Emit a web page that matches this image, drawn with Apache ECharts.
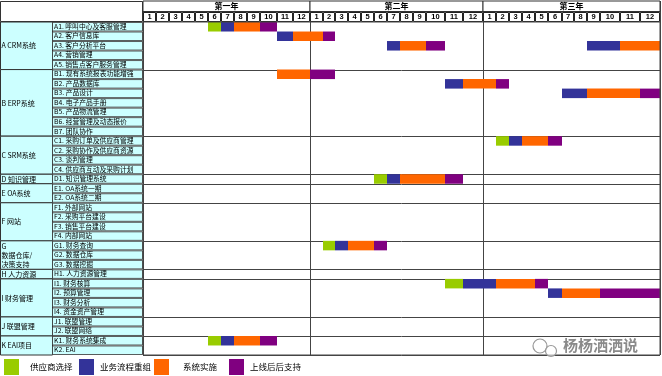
<!DOCTYPE html>
<html lang="zh-hans">
<head>
<meta charset="UTF-8">
<title>项目实施计划</title>
<script src="https://cdn.jsdelivr.net/npm/echarts@6/dist/echarts.min.js"></script>
<style>
  html, body { margin: 0; padding: 0; background: #fff; }
  #main { width: 662px; height: 376px; }
</style>
</head>
<body>
<div id="main"></div>
<script>
var yearLabels = ['第一年', '第二年', '第三年'];
var monthLabels = ['1', '2', '3', '4', '5', '6', '7', '8', '9', '10', '11', '12'];

var groupNames = ['A CRM系统', 'B ERP系统', 'C SRM系统', 'D 知识管理', 'E OA系统', 'F 网站',
  'G\n数据仓库/\n决策支持', 'H 人力资源', 'I 财务管理', 'J 联盟管理', 'K EAI项目'];
var groupSizes = [5, 7, 4, 1, 2, 4, 3, 1, 4, 2, 2];

var items = [
  'A1. 呼叫中心及客服管理', 'A2. 客户信息库', 'A3. 客户分析平台', 'A4. 营销管理', 'A5. 销售点客户服务管理',
  'B1. 现有系统报表功能增强', 'B2. 产品数据库', 'B3. 产品设计', 'B4. 电子产品手册', 'B5. 产品物流管理',
  'B6. 经营管理及动态报价', 'B7. 团队协作',
  'C1. 采购订单及供应商管理', 'C2. 采购协作及供应商资源', 'C3. 谈判管理', 'C4. 供应商互动及采购计划',
  'D1. 知识管理系统',
  'E1. OA系统一期', 'E2. OA系统二期',
  'F1. 外部网站', 'F2. 采购平台建设', 'F3. 销售平台建设', 'F4. 内部网站',
  'G1. 财务查询', 'G2. 数据仓库', 'G3. 数据挖掘',
  'H1. 人力资源管理',
  'I1. 财务核算', 'I2. 预算管理', 'I3. 财务分析', 'I4. 资金资产管理',
  'J1. 联盟管理', 'J2. 联盟网络',
  'K1. 财务系统集成', 'K2. EAI'
];

var phaseNames = ['供应商选择', '业务流程重组', '系统实施', '上线后后支持'];
// [行号, 起始月, 结束月]  月份按三年连续编号 1..36
var vendorSel = [[0, 6, 6], [12, 26, 26], [16, 18, 18], [23, 14, 14], [27, 23, 23], [33, 6, 6]];
var bpr = [[0, 7, 7], [1, 11, 11], [2, 19, 19], [2, 33, 34], [6, 23, 23], [7, 31, 32], [12, 27, 27],
  [16, 19, 19], [23, 15, 15], [27, 24, 25], [28, 30, 30], [33, 7, 7]];
var impl = [[0, 8, 9], [1, 12, 13], [2, 20, 21], [2, 35, 36], [5, 11, 12], [6, 24, 25], [7, 33, 35],
  [12, 28, 29], [16, 20, 22], [23, 16, 17], [27, 26, 28], [28, 31, 33], [33, 8, 9]];
var support = [[0, 10, 10], [1, 14, 14], [2, 22, 22], [5, 13, 14], [6, 26, 26], [7, 36, 36], [12, 30, 30],
  [16, 23, 23], [23, 18, 18], [27, 29, 29], [28, 34, 36], [33, 10, 10]];

// 列宽(版式)：原表格每月列宽不一
var colWidths = [13, 13, 13, 13, 13, 13, 13, 13, 13, 17, 16, 17,
  13, 12, 13, 13, 13, 13, 13, 13, 13, 19, 18, 20,
  13, 13, 13, 13, 13, 14, 12, 13, 13, 20, 20, 20];
var edges = [0];
colWidths.forEach(function (w, i) { edges.push(edges[i] + w); });
var totalW = edges[edges.length - 1];

var font = '"Noto Sans CJK SC", sans-serif';
var colors = ['#99cc00', '#333399', '#ff6600', '#800080'];

var chart = echarts.init(document.getElementById('main'));

function barItem(params, api) {
  var row = api.value(0);
  var p0 = api.coord([edges[api.value(1) - 1], row]);
  var p1 = api.coord([edges[api.value(2)], row]);
  var h = api.size([0, 1])[1];
  return {
    type: 'rect',
    shape: { x: p0[0], y: p0[1] - h / 2, width: p1[0] - p0[0], height: h },
    style: { fill: api.visual('color') }
  };
}

var groupData = [];
var r = 0;
groupSizes.forEach(function (n) { groupData.push([r, r + n - 1]); r += n; });

var phaseSeries = [vendorSel, bpr, impl, support].map(function (d, i) {
  return {
    type: 'custom', name: phaseNames[i], xAxisIndex: 0, yAxisIndex: 0,
    itemStyle: { color: colors[i] }, renderItem: barItem,
    encode: { y: 0 }, data: d, z: 5, silent: true
  };
});

var legends = phaseNames.map(function (n, i) {
  var lefts = [4, 79, 154, 229];
  var gaps = [6, 1, 9, 1];
  return {
    data: [n], left: lefts[i], top: 359, padding: 0, icon: 'rect',
    itemWidth: 15, itemHeight: 16, selectedMode: false,
    textStyle: { fontSize: 8.5, color: '#000', fontFamily: font, padding: [0, 0, 0, gaps[i]] }
  };
});

var option = {
  animation: false,
  legend: legends,
  grid: [
    { left: 143, top: 22, width: totalW, height: 333 },
    { left: 143, top: 1, width: totalW, height: 21 },
    { left: 0, top: 22, width: 143, height: 333 }
  ],
  xAxis: [
    { type: 'value', gridIndex: 0, min: 0, max: totalW, show: false },
    { type: 'value', gridIndex: 1, min: 0, max: totalW, show: false },
    { type: 'value', gridIndex: 2, min: 0, max: 143, show: false }
  ],
  yAxis: [
    { type: 'category', gridIndex: 0, data: items, inverse: true, show: false },
    { type: 'category', gridIndex: 1, data: ['year', 'month'], inverse: true, show: false },
    { type: 'category', gridIndex: 2, data: items, inverse: true, show: false }
  ],
  graphic: [
    { type: 'rect', shape: { x: 0.5, y: 1.5, width: 142, height: 20 }, style: { fill: '#fff', stroke: '#333', lineWidth: 1 } },
    { type: 'circle', shape: { cx: 540, cy: 346, r: 7 }, style: { fill: 'none', stroke: '#999', lineWidth: 1.2 }, z: 20 },
    { type: 'circle', shape: { cx: 551, cy: 351, r: 5.5 }, style: { fill: 'rgba(255,255,255,0.6)', stroke: '#999', lineWidth: 1.2 }, z: 20 },
    { type: 'text', left: 563, top: 338, z: 20, style: { text: '杨杨洒洒说', fill: '#8a8a8a', font: 'bold 15px ' + font } }
  ],
  series: [
    // 分组分隔线
    {
      type: 'custom', xAxisIndex: 0, yAxisIndex: 0, silent: true, z: 2, encode: { y: 0 },
      data: groupData.map(function (g) { return [g[1]]; }),
      renderItem: function (params, api) {
        var p = api.coord([0, api.value(0)]);
        var h = api.size([0, 1])[1];
        var y = Math.round(p[1] + h / 2) + 0.5;
        var x1 = api.coord([totalW, 0])[0];
        return { type: 'line', shape: { x1: p[0], y1: y, x2: x1, y2: y }, style: { stroke: '#444', lineWidth: 1 } };
      }
    },
    // 年度竖线
    {
      type: 'custom', xAxisIndex: 0, yAxisIndex: 0, silent: true, z: 2, encode: { y: 0 },
      data: [[0, 0], [1, 0], [2, 0], [3, 0]],
      renderItem: function (params, api) {
        var x = Math.round(api.coord([edges[12 * api.value(0)], 0])[0]) + 0.5;
        var top = api.coord([0, 0])[1] - api.size([0, 1])[1] / 2;
        var bot = api.coord([0, items.length - 1])[1] + api.size([0, 1])[1] / 2;
        return { type: 'line', shape: { x1: x, y1: top - 21, x2: x, y2: bot }, style: { stroke: '#444', lineWidth: 1 } };
      }
    },
    // 年度标题
    {
      type: 'custom', xAxisIndex: 1, yAxisIndex: 1, silent: true, z: 3,
      data: yearLabels.map(function (t, i) { return [i]; }),
      renderItem: function (params, api) {
        var i = api.value(0);
        var a = api.coord([edges[12 * i], 0]);
        var b = api.coord([edges[12 * i + 12], 0]);
        var h = api.size([0, 1])[1];
        return {
          type: 'group', children: [
            { type: 'rect', shape: { x: a[0], y: a[1] - h / 2, width: b[0] - a[0], height: h }, style: { fill: '#fff', stroke: '#333', lineWidth: 1 } },
            { type: 'text', style: { text: yearLabels[i], x: (a[0] + b[0]) / 2, y: a[1], align: 'center', verticalAlign: 'middle', font: 'bold 8px ' + font, fill: '#000' } }
          ]
        };
      }
    },
    // 月份表头
    {
      type: 'custom', xAxisIndex: 1, yAxisIndex: 1, silent: true, z: 3,
      data: colWidths.map(function (w, i) { return [i]; }),
      renderItem: function (params, api) {
        var i = api.value(0);
        var a = api.coord([edges[i], 1]);
        var b = api.coord([edges[i + 1], 1]);
        var h = api.size([0, 1])[1];
        return {
          type: 'group', children: [
            { type: 'rect', shape: { x: a[0] + 0.5, y: a[1] - h / 2 + 1, width: b[0] - a[0] - 1, height: h - 1.5 }, style: { fill: '#fff', stroke: '#222', lineWidth: 1 } },
            { type: 'text', style: { text: monthLabels[i % 12], x: (a[0] + b[0]) / 2, y: a[1] + 0.5, align: 'center', verticalAlign: 'middle', font: 'bold 7.5px sans-serif', fill: '#000' } }
          ]
        };
      }
    },
    // 外框
    {
      type: 'custom', xAxisIndex: 0, yAxisIndex: 0, silent: true, z: 6, encode: { y: 0 },
      data: [[0]],
      renderItem: function (params, api) {
        var h = api.size([0, 1])[1];
        var a = api.coord([0, 0]);
        var b = api.coord([totalW, items.length - 1]);
        return { type: 'rect', shape: { x: a[0], y: a[1] - h / 2, width: b[0] - a[0], height: b[1] - a[1] + h }, style: { fill: 'none', stroke: '#444', lineWidth: 1 } };
      }
    },
    // 分组单元格
    {
      type: 'custom', xAxisIndex: 2, yAxisIndex: 2, silent: true, z: 3, encode: { y: 0 },
      data: groupData,
      renderItem: function (params, api) {
        var h = api.size([0, 1])[1];
        var a = api.coord([0, api.value(0)]);
        var b = api.coord([52, api.value(1)]);
        var y0 = a[1] - h / 2, y1 = b[1] + h / 2;
        return {
          type: 'group', children: [
            { type: 'rect', shape: { x: a[0] + 0.5, y: y0, width: b[0] - a[0], height: y1 - y0 }, style: { fill: '#ccffff', stroke: '#333', lineWidth: 1 } },
            { type: 'text', style: { text: groupNames[params.dataIndex], x: a[0] + 1.5, y: (y0 + y1) / 2, verticalAlign: 'middle', font: '7px ' + font, lineHeight: 9, fill: '#000' } }
          ]
        };
      }
    },
    // 项目单元格
    {
      type: 'custom', xAxisIndex: 2, yAxisIndex: 2, silent: true, z: 3, encode: { y: 0 },
      data: items.map(function (t, i) { return [i]; }),
      renderItem: function (params, api) {
        var h = api.size([0, 1])[1];
        var a = api.coord([52, api.value(0)]);
        var b = api.coord([143, api.value(0)]);
        return {
          type: 'group', children: [
            { type: 'rect', shape: { x: a[0] + 0.5, y: a[1] - h / 2 + 0.5, width: b[0] - a[0] - 1, height: h - 1 }, style: { fill: '#ccffff', stroke: '#333', lineWidth: 0.8 } },
            { type: 'text', z2: 10, style: { text: items[params.dataIndex], x: a[0] + 2, y: a[1] - 0.5, verticalAlign: 'middle', font: '6.8px ' + font, fill: '#000' } }
          ]
        };
      }
    }
  ].concat(phaseSeries)
};

chart.setOption(option);
</script>
</body>
</html>
